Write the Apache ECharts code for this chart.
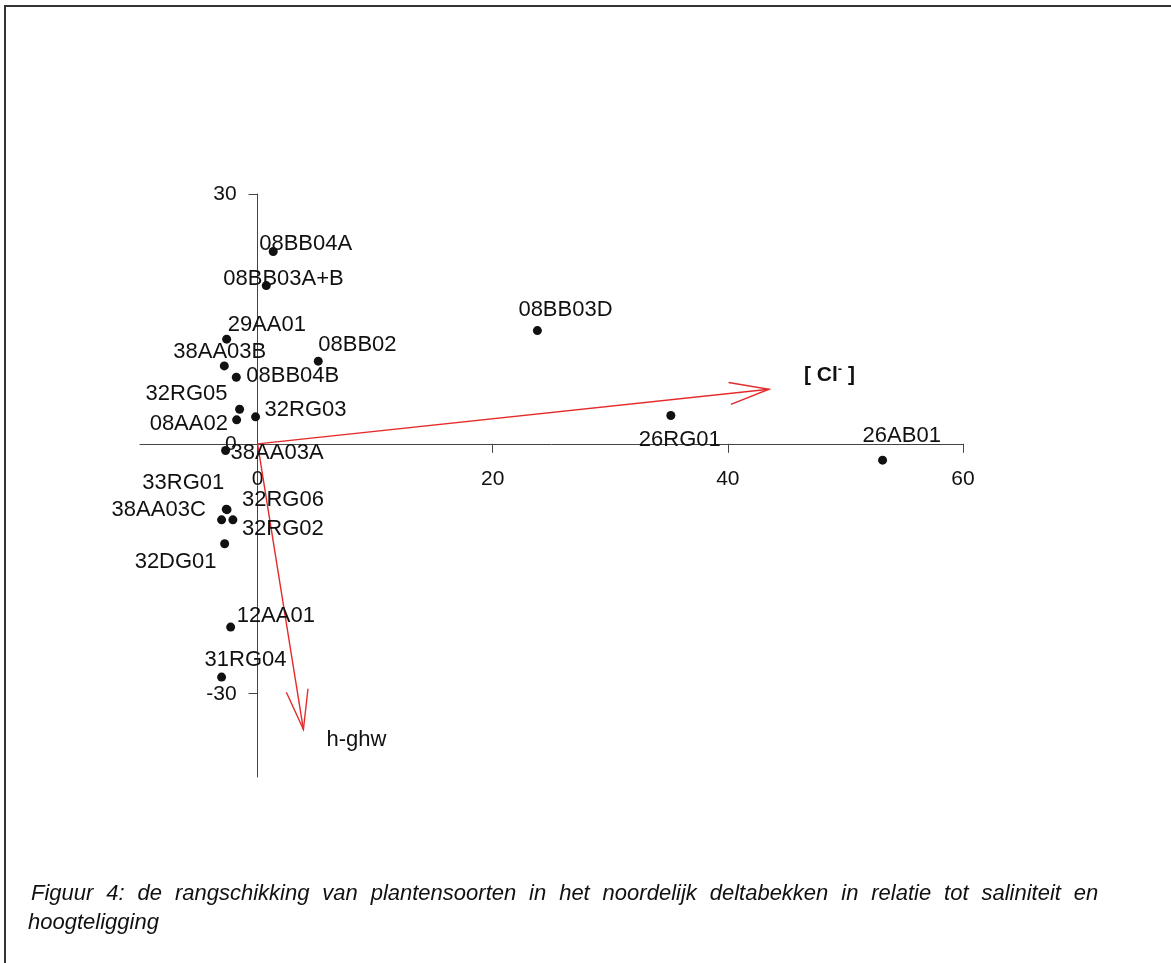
<!DOCTYPE html>
<html>
<head>
<meta charset="utf-8">
<script src="https://cdn.jsdelivr.net/npm/echarts@6/dist/echarts.min.js"></script>
<style>
html,body{margin:0;padding:0;background:#fff;}
#chart{width:1171px;height:963px;}
</style>
</head>
<body>
<div id="chart"></div>
<script>
// ---- data ----
const siteNames = ['08BB04A','08BB03A+B','29AA01','38AA03B','08BB04B','08BB02','32RG05','08AA02','32RG03','38AA03A',
  '33RG01','32RG06','38AA03C','32RG02','32DG01','12AA01','31RG04','08BB03D','26RG01','26AB01'];
const siteX = [1.33,0.74,-2.63,-2.83,-1.81,5.16,-1.53,-1.78,-0.17,-2.72,
  -2.66,-2.6,-3.06,-2.1,-2.8,-2.29,-3.06,23.8,35.15,53.16];
const siteY = [23.1,19.0,12.57,9.36,8.0,9.93,4.16,2.88,3.24,-0.8,
  -7.84,-7.9,-9.12,-9.12,-12.0,-22.0,-28.0,13.6,3.4,-1.96];
const arrowNames = ['Cl', 'h-ghw'];
const arrowX = [43.5, 3.9];
const arrowY = [6.56, -34.3];
const xTicks = [0, 20, 40, 60];
const yTicks = [-30, 0, 30];
const caption = ['Figuur 4: de rangschikking van plantensoorten in het noordelijk deltabekken in relatie tot saliniteit en',
  'hoogteligging'];

// ---- layout (label offsets in pixels, not data) ----
const labelOffsets = [[-14,-8],[-43,-7],[1,-14],[-51,-14],[10,-1],[0,-16],[-94,-15],[-87,4],[9,-7],[5,2],
  [-84,-26],[15,-10],[-110,-10],[9,9],[-90,18],[6,-11],[-17,-17],[-19,-21],[-32,24],[-20,-24]];
const arrowLabelOffsets = [[35,-14],[23,10]];

const FONT = 'Liberation Sans, Arial, Helvetica, sans-serif';
const chart = echarts.init(document.getElementById('chart'), null, {renderer:'canvas'});

const scatterData = siteNames.map((n,i)=>({
  name:n, value:[siteX[i], siteY[i]],
  label:{offset:labelOffsets[i]}
}));
const arrowData = arrowNames.map((n,i)=>({name:n, value:[arrowX[i], arrowY[i]]}));

// justified first caption line: each space is a wider rich-text token
const capRich = caption[0].split(' ').map(w=>'{w|'+w+'}').join('{sp| }');

const RED = '#e52a2a';
function renderArrow(params, api){
  const o = api.coord([0,0]);
  const t = api.coord([api.value(0), api.value(1)]);
  const ang = Math.atan2(t[1]-o[1], t[0]-o[0]);
  const L = 41, a = 15.5*Math.PI/180;
  const p1 = [t[0]-L*Math.cos(ang-a), t[1]-L*Math.sin(ang-a)];
  const p2 = [t[0]-L*Math.cos(ang+a), t[1]-L*Math.sin(ang+a)];
  const off = arrowLabelOffsets[params.dataIndex];
  const isCl = params.dataIndex === 0;
  const textEl = isCl ? {
    type:'text',
    style:{
      x:t[0]+off[0], y:t[1]+off[1],
      text:'{b|[ Cl}{s|-}{b| ]}',
      verticalAlign:'middle', align:'left',
      rich:{
        b:{fontFamily:FONT, fontSize:21, fontWeight:'bold', fill:'#111'},
        s:{fontFamily:FONT, fontSize:13, fontWeight:'bold', fill:'#111', verticalAlign:'top', padding:[0,0,12,0]}
      }
    }
  } : {
    type:'text',
    style:{
      x:t[0]+off[0], y:t[1]+off[1],
      text:'h-ghw', fontFamily:FONT, fontSize:22, fill:'#111',
      verticalAlign:'middle', align:'left'
    }
  };
  return {
    type:'group',
    children:[
      {type:'line', shape:{x1:o[0],y1:o[1],x2:t[0],y2:t[1]}, style:{stroke:RED, lineWidth:1.4}},
      {type:'polyline', shape:{points:[p1,t,p2]}, style:{stroke:RED, lineWidth:1.4, fill:null}},
      textEl
    ]
  };
}

const option = {
  backgroundColor:'#fff',
  animation:false,
  grid:{left:140, right:208, top:194, bottom:186, containLabel:false, outerBoundsMode:'none'},
  xAxis:{
    type:'value', min:-10, max:60,
    axisLine:{show:true, onZero:false, lineStyle:{color:'#444', width:1}},
    axisTick:{show:true, length:9, customValues:xTicks, lineStyle:{color:'#444'}},
    axisLabel:{customValues:xTicks, margin:25, color:'#111', fontSize:21, fontFamily:FONT},
    splitLine:{show:false}
  },
  yAxis:{
    type:'value', min:-40, max:30,
    axisLine:{show:true, onZero:false, lineStyle:{color:'#444', width:1}},
    axisTick:{show:true, length:9, customValues:yTicks, lineStyle:{color:'#444'}},
    axisLabel:{customValues:yTicks, margin:21, color:'#111', fontSize:21, fontFamily:FONT},
    splitLine:{show:false}
  },
  series:[
    {
      type:'custom', renderItem:renderArrow, data:arrowData, clip:false, z:3,
      encode:{x:0, y:1}
    },
    {
      type:'scatter', data:scatterData, symbol:'circle', symbolSize:9, z:4,
      itemStyle:{color:'#111', opacity:1},
      label:{show:true, position:'inside', formatter:'{b}', align:'left', verticalAlign:'middle',
        color:'#111', opacity:1, fontSize:22, fontFamily:FONT}
    }
  ],
  graphic:[
    {type:'line', shape:{x1:4, y1:6, x2:1171, y2:6}, style:{stroke:'#333', lineWidth:2}},
    {type:'line', shape:{x1:5, y1:5, x2:5, y2:963}, style:{stroke:'#333', lineWidth:2}},
    {type:'text', left:31, top:883, style:{text:capRich,
      rich:{
        w:{fontFamily:FONT, fontStyle:'italic', fontSize:22, fill:'#111'},
        sp:{fontFamily:FONT, fontStyle:'italic', fontSize:22, fill:'#111', width:12.9}
      }}},
    {type:'text', left:28, top:912, style:{text:caption[1], fontFamily:FONT, fontStyle:'italic', fontSize:22, fill:'#111'}}
  ]
};
chart.setOption(option);

// move both axes onto the zero lines of each other, using the chart's own scales
const zeroPx = chart.convertToPixel({gridIndex:0}, [0, 0]);
const cornerPx = chart.convertToPixel({gridIndex:0}, [-10, -40]);
chart.setOption({
  xAxis:{offset: -(cornerPx[1] - zeroPx[1])},
  yAxis:{offset: -(zeroPx[0] - cornerPx[0])}
});
</script>
</body>
</html>
